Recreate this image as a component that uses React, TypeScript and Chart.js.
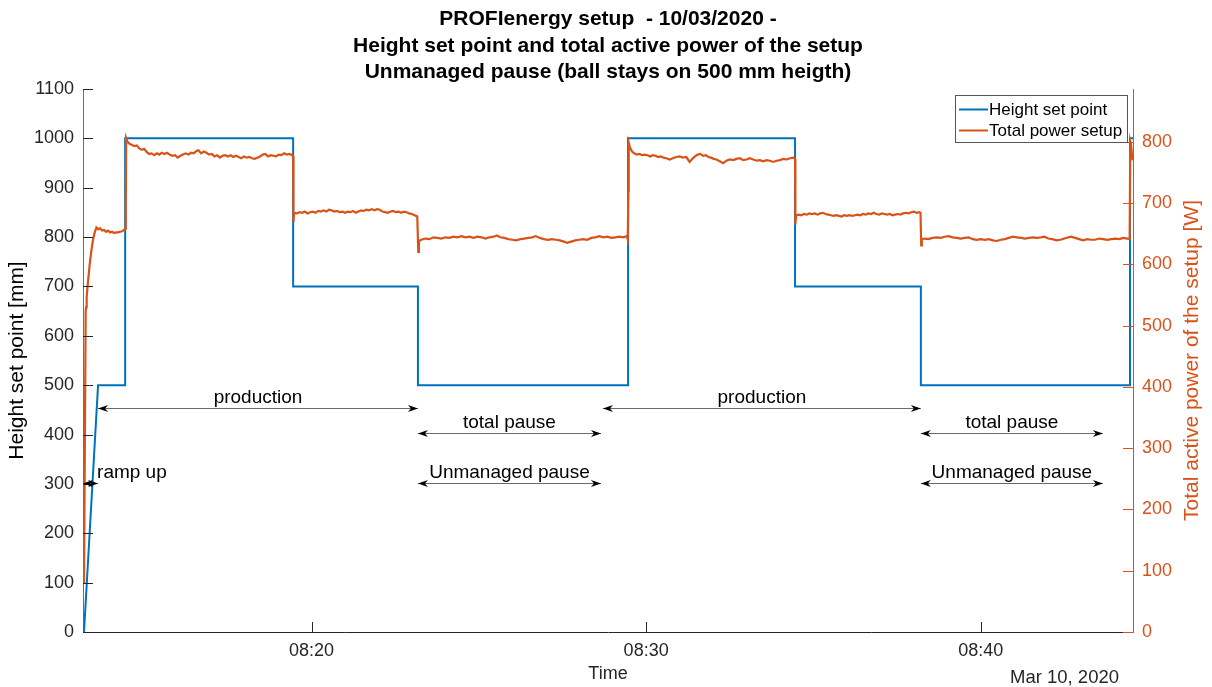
import React, { useEffect, useRef } from "react";
import { Chart, registerables } from "chart.js";

Chart.register(...registerables);

// ---------- data (time in minutes after 08:00) ----------
const titleLines = [
  "PROFIenergy setup  - 10/03/2020 -",
  "Height set point and total active power of the setup",
  "Unmanaged pause (ball stays on 500 mm heigth)",
];

const xTickValues = [20, 30, 40];
const leftTickValues = [0, 100, 200, 300, 400, 500, 600, 700, 800, 900, 1000, 1100];
const rightTickValues = [0, 100, 200, 300, 400, 500, 600, 700, 800];

const heightT = [13.2, 13.62, 14.43, 14.43, 19.45, 19.45, 23.18, 23.18, 29.46, 29.46, 34.45, 34.45, 38.21, 38.21, 44.46, 44.46, 44.6];
const heightMM = [0, 500, 500, 1000, 1000, 700, 700, 500, 500, 1000, 1000, 700, 700, 500, 500, 1000, 1000];

const powerRamp: [number, number][] = [
  [13.2, 80], [13.21, 80], [13.25, 525], [13.265, 530], [13.28, 547], [13.32, 572], [13.37, 600], [13.42, 622],
  [13.47, 640], [13.52, 652], [13.57, 660], [13.62, 657], [13.68, 659], [13.74, 655], [13.8, 656], [13.86, 653],
  [13.92, 655], [13.98, 652], [14.04, 653], [14.1, 651], [14.16, 652], [14.22, 652], [14.28, 653], [14.34, 654],
  [14.4, 656], [14.43, 658],
];
const powerProd1: [number, number][] = [
  [14.45, 700], [14.46, 806], [14.5, 800], [14.55, 797], [14.62, 795], [14.7, 793], [14.78, 794], [14.85, 789],
  [14.92, 787], [15.0, 788], [15.08, 783], [15.15, 780], [15.22, 781], [15.3, 778], [15.38, 781], [15.45, 779],
  [15.52, 782], [15.6, 780], [15.68, 782], [15.76, 779], [15.84, 777], [15.92, 778], [16.0, 774], [16.08, 777],
  [16.16, 779], [16.24, 781], [16.32, 779], [16.4, 782], [16.48, 781], [16.56, 785], [16.62, 786], [16.7, 781],
  [16.78, 784], [16.86, 782], [16.94, 779], [17.02, 780], [17.1, 776], [17.18, 778], [17.26, 774], [17.34, 777],
  [17.42, 778], [17.5, 776], [17.58, 778], [17.66, 775], [17.74, 777], [17.82, 775], [17.9, 773], [17.98, 776],
  [18.06, 774], [18.14, 775], [18.22, 773], [18.3, 772], [18.38, 774], [18.46, 776], [18.54, 779], [18.62, 780],
  [18.7, 776], [18.78, 778], [18.86, 777], [18.94, 776], [19.02, 779], [19.1, 778], [19.18, 781], [19.26, 779],
  [19.34, 780], [19.42, 778], [19.45, 776],
];
const powerHalf1: [number, number][] = [
  [19.46, 669], [19.48, 684], [19.56, 683], [19.64, 685], [19.72, 684], [19.8, 686], [19.88, 683], [19.96, 685],
  [20.04, 686], [20.12, 684], [20.2, 687], [20.28, 686], [20.36, 688], [20.44, 686], [20.52, 689], [20.6, 688],
  [20.68, 686], [20.76, 687], [20.84, 685], [20.92, 686], [21.0, 684], [21.08, 686], [21.16, 685], [21.24, 687],
  [21.32, 684], [21.4, 686], [21.48, 688], [21.56, 687], [21.64, 689], [21.72, 688], [21.8, 690], [21.88, 688],
  [21.96, 690], [22.04, 689], [22.12, 686], [22.2, 685], [22.28, 684], [22.36, 686], [22.44, 687], [22.52, 685],
  [22.6, 686], [22.68, 684], [22.76, 686], [22.84, 685], [22.92, 683], [23.0, 682], [23.08, 680], [23.16, 678],
];
const powerPause1: [number, number][] = [
  [23.19, 620], [23.21, 638], [23.28, 640], [23.4, 642], [23.52, 641], [23.64, 644], [23.76, 643], [23.88, 642],
  [24.0, 644], [24.12, 643], [24.24, 645], [24.36, 644], [24.48, 646], [24.6, 644], [24.72, 645], [24.84, 643],
  [24.96, 645], [25.08, 644], [25.2, 642], [25.32, 644], [25.44, 645], [25.54, 647], [25.64, 644], [25.76, 643],
  [25.88, 641], [26.0, 640], [26.12, 639], [26.24, 641], [26.36, 642], [26.48, 643], [26.6, 644], [26.7, 646],
  [26.82, 643], [26.94, 641], [27.06, 640], [27.18, 641], [27.3, 640], [27.42, 639], [27.54, 637], [27.64, 635],
  [27.76, 637], [27.88, 639], [28.0, 640], [28.12, 641], [28.24, 640], [28.36, 643], [28.48, 644], [28.6, 646],
  [28.72, 644], [28.84, 645], [28.96, 643], [29.08, 644], [29.2, 645], [29.32, 644], [29.42, 646], [29.45, 641],
];
const powerProd2: [number, number][] = [
  [29.47, 720], [29.48, 798], [29.52, 790], [29.58, 784], [29.64, 781], [29.72, 779], [29.8, 780], [29.88, 778],
  [29.96, 779], [30.04, 778], [30.12, 776], [30.2, 778], [30.28, 777], [30.36, 775], [30.44, 776], [30.52, 774],
  [30.6, 773], [30.7, 771], [30.8, 773], [30.9, 775], [31.0, 776], [31.1, 774], [31.2, 775], [31.3, 767],
  [31.38, 772], [31.46, 776], [31.54, 779], [31.62, 780], [31.7, 777], [31.78, 778], [31.86, 775], [31.94, 774],
  [32.02, 772], [32.1, 771], [32.2, 768], [32.3, 765], [32.4, 769], [32.5, 771], [32.6, 770], [32.7, 772],
  [32.8, 773], [32.9, 770], [33.0, 771], [33.1, 773], [33.2, 771], [33.3, 769], [33.4, 770], [33.5, 768],
  [33.6, 770], [33.7, 769], [33.8, 767], [33.9, 769], [34.0, 770], [34.1, 772], [34.2, 771], [34.3, 773],
  [34.4, 774], [34.45, 772],
];
const powerHalf2: [number, number][] = [
  [34.46, 665], [34.48, 680], [34.56, 681], [34.64, 680], [34.72, 682], [34.8, 681], [34.88, 683], [34.96, 682],
  [35.04, 683], [35.12, 681], [35.2, 683], [35.28, 684], [35.36, 682], [35.44, 681], [35.52, 680], [35.6, 679],
  [35.68, 680], [35.76, 679], [35.84, 678], [35.92, 680], [36.0, 679], [36.08, 680], [36.16, 679], [36.24, 680],
  [36.32, 681], [36.4, 680], [36.48, 682], [36.56, 681], [36.64, 683], [36.72, 682], [36.8, 684], [36.88, 682],
  [36.96, 681], [37.04, 683], [37.12, 682], [37.2, 681], [37.28, 682], [37.36, 680], [37.44, 681], [37.52, 682],
  [37.6, 681], [37.68, 683], [37.76, 684], [37.84, 683], [37.92, 685], [38.0, 686], [38.08, 684], [38.16, 685],
  [38.2, 684],
];
const powerPause2: [number, number][] = [
  [38.22, 631], [38.24, 641], [38.32, 642], [38.44, 641], [38.56, 643], [38.68, 644], [38.8, 643], [38.92, 645],
  [39.04, 646], [39.16, 644], [39.28, 643], [39.4, 642], [39.52, 643], [39.64, 644], [39.76, 641], [39.88, 640],
  [40.0, 641], [40.12, 640], [40.24, 641], [40.36, 639], [40.48, 638], [40.6, 640], [40.72, 641], [40.84, 643],
  [40.96, 645], [41.08, 644], [41.2, 643], [41.32, 642], [41.44, 643], [41.56, 644], [41.68, 643], [41.8, 644],
  [41.9, 645], [42.02, 642], [42.14, 641], [42.26, 639], [42.38, 640], [42.5, 642], [42.62, 644], [42.7, 645],
  [42.82, 643], [42.94, 641], [43.06, 639], [43.18, 641], [43.3, 640], [43.42, 640], [43.54, 642], [43.66, 641],
  [43.78, 640], [43.9, 641], [44.02, 642], [44.14, 641], [44.26, 643], [44.38, 642], [44.45, 641],
];
const powerRestart: [number, number][] = [
  [44.47, 800], [44.49, 795], [44.51, 785], [44.53, 772], [44.56, 770],
];

// annotations: label, start (min), end (min), height level (mm, left axis)
const annoLabels = ["ramp up", "production", "total pause", "Unmanaged pause", "production", "total pause", "Unmanaged pause"];
const annoStart = [13.17, 13.62, 23.18, 23.18, 28.71, 38.21, 38.21];
const annoEnd = [13.62, 23.18, 28.65, 28.65, 38.21, 43.65, 43.65];
const annoLevel = [301, 454, 404, 301, 454, 404, 301];

const BLUE = "#0072BD";
const ORANGE = "#D95319";
const AXIS = "#262626";
const FONT = "'Liberation Sans', Arial, Helvetica, sans-serif";

function pad2(n: number) {
  return n < 10 ? "0" + n : String(n);
}

function drawHead(ctx: CanvasRenderingContext2D, x: number, y: number, dir: number) {
  // dir = -1 : pointing left, +1 : pointing right
  const L = 10, W = 3.5, N = 7;
  ctx.beginPath();
  ctx.moveTo(x, y);
  ctx.lineTo(x - dir * L, y - W);
  ctx.lineTo(x - dir * N, y);
  ctx.lineTo(x - dir * L, y + W);
  ctx.closePath();
  ctx.fill();
}

const overlayPlugin = {
  id: "overlay",
  afterDraw(chart: any) {
    const { ctx, chartArea } = chart;
    const xs = chart.scales.x;
    const yl = chart.scales.y;
    const yr = chart.scales.y1;
    ctx.save();

    // inward tick marks
    ctx.lineWidth = 1;
    ctx.strokeStyle = AXIS;
    ctx.beginPath();
    for (const t of xs.ticks) {
      const px = Math.round(xs.getPixelForValue(t.value)) + 0.5;
      ctx.moveTo(px, chartArea.bottom);
      ctx.lineTo(px, chartArea.bottom - 10);
    }
    for (const t of yl.ticks) {
      const py = Math.round(yl.getPixelForValue(t.value)) + 0.5;
      ctx.moveTo(chartArea.left, py);
      ctx.lineTo(chartArea.left + 10, py);
    }
    ctx.stroke();
    ctx.strokeStyle = ORANGE;
    ctx.beginPath();
    for (const t of yr.ticks) {
      const py = Math.round(yr.getPixelForValue(t.value)) + 0.5;
      ctx.moveTo(chartArea.right, py);
      ctx.lineTo(chartArea.right - 10, py);
    }
    ctx.stroke();

    // annotations
    ctx.font = `19px ${FONT}`;
    ctx.lineWidth = 1;
    for (let i = 0; i < annoLabels.length; i++) {
      const x1 = xs.getPixelForValue(annoStart[i]);
      const x2 = xs.getPixelForValue(annoEnd[i]);
      const y = Math.round(yl.getPixelForValue(annoLevel[i])) + 0.5;
      ctx.strokeStyle = "#6a6a6a";
      ctx.beginPath();
      ctx.moveTo(x1, y);
      ctx.lineTo(x2, y);
      ctx.stroke();
      ctx.fillStyle = "#000";
      drawHead(ctx, x1, y, -1);
      drawHead(ctx, x2, y, 1);
      ctx.fillStyle = "#000";
      ctx.textBaseline = "alphabetic";
      if (i === 0) {
        ctx.textAlign = "left";
        ctx.fillText(annoLabels[i], x2 - 1, y - 6);
      } else {
        ctx.textAlign = "center";
        ctx.fillText(annoLabels[i], (x1 + x2) / 2, y - 6);
      }
    }

    // legend
    const lx = 955.5, ly = 95.5, lw = 172, lh = 47;
    ctx.fillStyle = "#fff";
    ctx.fillRect(lx, ly, lw, lh);
    ctx.strokeStyle = "#555";
    ctx.lineWidth = 1;
    ctx.strokeRect(lx, ly, lw, lh);
    const ds = chart.data.datasets;
    const legendRows = [ds[0], ds[1]];
    ctx.font = `17px ${FONT}`;
    ctx.textAlign = "left";
    ctx.textBaseline = "middle";
    legendRows.forEach((d: any, k: number) => {
      const yy = 109.5 + k * 21;
      ctx.strokeStyle = d.borderColor;
      ctx.lineWidth = 2;
      ctx.beginPath();
      ctx.moveTo(959, yy);
      ctx.lineTo(988, yy);
      ctx.stroke();
      ctx.fillStyle = "#000";
      ctx.fillText(d.label, 989, yy + 1);
    });

    // title
    ctx.fillStyle = "#000";
    ctx.font = `bold 21px ${FONT}`;
    ctx.textAlign = "center";
    ctx.textBaseline = "alphabetic";
    const cx = (chartArea.left + chartArea.right) / 2;
    titleLines.forEach((t, k) => ctx.fillText(t, cx, 25 + k * 26.5));

    // right axis title (reads bottom-to-top)
    ctx.save();
    ctx.translate(1192, (chartArea.top + chartArea.bottom) / 2);
    ctx.rotate(-Math.PI / 2);
    ctx.fillStyle = ORANGE;
    ctx.font = `21px ${FONT}`;
    ctx.textAlign = "center";
    ctx.textBaseline = "middle";
    ctx.fillText("Total active power of the setup [W]", 0, 0);
    ctx.restore();

    // date label
    ctx.fillStyle = AXIS;
    ctx.font = `18.5px ${FONT}`;
    ctx.textAlign = "right";
    ctx.textBaseline = "alphabetic";
    ctx.fillText("Mar 10, 2020", chartArea.right - 14, 683);

    ctx.restore();
  },
};

export default function App() {
  const ref = useRef<HTMLCanvasElement | null>(null);

  useEffect(() => {
    if (!ref.current) return;
    const powerAll = [
      ...powerRamp, ...powerProd1, ...powerHalf1, ...powerPause1,
      ...powerProd2, ...powerHalf2, ...powerPause2, ...powerRestart,
    ];
    const chart = new Chart(ref.current, {
      type: "line",
      data: {
        datasets: [
          {
            label: "Height set point",
            data: heightT.map((t, i) => ({ x: t, y: heightMM[i] })),
            borderColor: BLUE,
            backgroundColor: BLUE,
            borderWidth: 2,
            pointRadius: 0,
            tension: 0,
            yAxisID: "y",
            order: 2,
          },
          {
            label: "Total power setup",
            data: powerAll.map(([t, w]) => ({ x: t, y: w })),
            borderColor: ORANGE,
            backgroundColor: ORANGE,
            borderWidth: 2.2,
            pointRadius: 0,
            tension: 0,
            yAxisID: "y1",
            order: 1,
          },
        ],
      },
      options: {
        animation: false,
        responsive: false,
        events: [],
        layout: { padding: { top: 89, left: 0, right: 0, bottom: 0 } },
        plugins: {
          legend: { display: false },
          title: { display: false },
          tooltip: { enabled: false },
        },
        scales: {
          x: {
            type: "linear",
            min: 13.17,
            max: 44.55,
            grid: { display: false, drawTicks: false },
            border: { display: true, color: AXIS, width: 1 },
            ticks: {
              color: AXIS,
              padding: 8,
              font: { family: FONT, size: 18 },
              callback: (v: any) => "08:" + pad2(Number(v)),
            },
            afterBuildTicks: (s: any) => {
              s.ticks = xTickValues.map((v) => ({ value: v }));
            },
            afterFit: (s: any) => {
              s.height = 55;
            },
            title: {
              display: true,
              text: "Time",
              color: AXIS,
              font: { family: FONT, size: 18 },
              padding: { top: 0, bottom: 2 },
            },
          },
          y: {
            type: "linear",
            position: "left",
            min: 0,
            max: 1100,
            grid: { display: false, drawTicks: false },
            border: { display: true, color: "#6e6e6e", width: 1 },
            ticks: {
              color: AXIS,
              padding: 9,
              font: { family: FONT, size: 18 },
              callback: (v: any) => String(v),
            },
            afterBuildTicks: (s: any) => {
              s.ticks = leftTickValues.map((v) => ({ value: v }));
            },
            afterFit: (s: any) => {
              s.width = 83;
            },
            title: {
              display: true,
              text: "Height set point [mm]",
              color: "#000",
              font: { family: FONT, size: 21 },
              padding: { top: 5, bottom: 0 },
            },
          },
          y1: {
            type: "linear",
            position: "right",
            min: 0,
            max: 886,
            grid: { display: false, drawTicks: false },
            border: { display: true, color: ORANGE, width: 1 },
            ticks: {
              color: ORANGE,
              padding: 9,
              font: { family: FONT, size: 18 },
              callback: (v: any) => String(v),
            },
            afterBuildTicks: (s: any) => {
              s.ticks = rightTickValues.map((v) => ({ value: v }));
            },
            afterFit: (s: any) => {
              s.width = 79;
            },
          },
        },
      },
      plugins: [overlayPlugin],
    } as any);
    return () => chart.destroy();
  }, []);

  return (
    <div style={{ position: "fixed", left: 0, top: 0, width: 1212, height: 687, background: "#fff" }}>
      <canvas ref={ref} width={1212} height={687} style={{ display: "block" }} />
    </div>
  );
}
